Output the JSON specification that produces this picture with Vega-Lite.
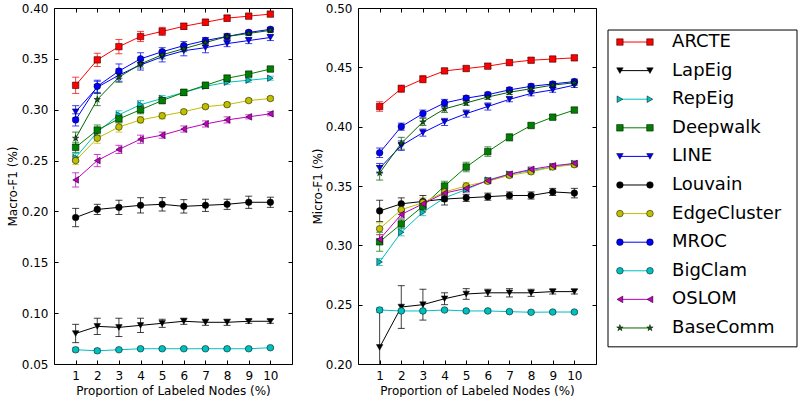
{
"$schema": "https://vega.github.io/schema/vega-lite/v6.json",
"padding": {"left": 5, "top": 1, "right": 0, "bottom": 0},
"config": {
  "font": "DejaVu Sans",
  "view": {"stroke": "black", "strokeWidth": 1},
  "axis": {"grid": false, "domainColor": "black", "tickColor": "black", "labelColor": "black", "titleColor": "black",
           "labelFont": "DejaVu Sans", "titleFont": "DejaVu Sans", "labelFontSize": 12, "titleFontSize": 12,
           "titleFontWeight": "normal", "tickSize": -4, "labelPadding": 10}
},
"datasets": {
"macro": [
{"m":"ARCTE","x":1,"v":0.324,"e":0.008},{"m":"ARCTE","x":2,"v":0.349,"e":0.0065},{"m":"ARCTE","x":3,"v":0.362,"e":0.007},{"m":"ARCTE","x":4,"v":0.372,"e":0.005},{"m":"ARCTE","x":5,"v":0.377,"e":0.004},{"m":"ARCTE","x":6,"v":0.382,"e":0.003},{"m":"ARCTE","x":7,"v":0.386,"e":0.003},{"m":"ARCTE","x":8,"v":0.390,"e":0.003},{"m":"ARCTE","x":9,"v":0.392,"e":0.002},{"m":"ARCTE","x":10,"v":0.394,"e":0.002},
{"m":"LapEig","x":1,"v":0.080,"e":0.009},{"m":"LapEig","x":2,"v":0.087,"e":0.008},{"m":"LapEig","x":3,"v":0.086,"e":0.009},{"m":"LapEig","x":4,"v":0.088,"e":0.007},{"m":"LapEig","x":5,"v":0.090,"e":0.004},{"m":"LapEig","x":6,"v":0.092,"e":0.003},{"m":"LapEig","x":7,"v":0.091,"e":0.003},{"m":"LapEig","x":8,"v":0.091,"e":0.003},{"m":"LapEig","x":9,"v":0.092,"e":0.002},{"m":"LapEig","x":10,"v":0.092,"e":0.002},
{"m":"RepEig","x":1,"v":0.253,"e":0.004},{"m":"RepEig","x":2,"v":0.278,"e":0.004},{"m":"RepEig","x":3,"v":0.295,"e":0.004},{"m":"RepEig","x":4,"v":0.305,"e":0.004},{"m":"RepEig","x":5,"v":0.311,"e":0.003},{"m":"RepEig","x":6,"v":0.317,"e":0.003},{"m":"RepEig","x":7,"v":0.323,"e":0.002},{"m":"RepEig","x":8,"v":0.327,"e":0.002},{"m":"RepEig","x":9,"v":0.329,"e":0.002},{"m":"RepEig","x":10,"v":0.331,"e":0.002},
{"m":"Deepwalk","x":1,"v":0.263,"e":0.005},{"m":"Deepwalk","x":2,"v":0.280,"e":0.005},{"m":"Deepwalk","x":3,"v":0.291,"e":0.004},{"m":"Deepwalk","x":4,"v":0.300,"e":0.004},{"m":"Deepwalk","x":5,"v":0.309,"e":0.003},{"m":"Deepwalk","x":6,"v":0.317,"e":0.003},{"m":"Deepwalk","x":7,"v":0.324,"e":0.003},{"m":"Deepwalk","x":8,"v":0.331,"e":0.003},{"m":"Deepwalk","x":9,"v":0.335,"e":0.002},{"m":"Deepwalk","x":10,"v":0.340,"e":0.002},
{"m":"LINE","x":1,"v":0.298,"e":0.006},{"m":"LINE","x":2,"v":0.322,"e":0.006},{"m":"LINE","x":3,"v":0.334,"e":0.006},{"m":"LINE","x":4,"v":0.344,"e":0.005},{"m":"LINE","x":5,"v":0.352,"e":0.005},{"m":"LINE","x":6,"v":0.358,"e":0.005},{"m":"LINE","x":7,"v":0.361,"e":0.005},{"m":"LINE","x":8,"v":0.365,"e":0.003},{"m":"LINE","x":9,"v":0.368,"e":0.003},{"m":"LINE","x":10,"v":0.371,"e":0.003},
{"m":"Louvain","x":1,"v":0.194,"e":0.009},{"m":"Louvain","x":2,"v":0.202,"e":0.005},{"m":"Louvain","x":3,"v":0.204,"e":0.007},{"m":"Louvain","x":4,"v":0.206,"e":0.0075},{"m":"Louvain","x":5,"v":0.207,"e":0.0066},{"m":"Louvain","x":6,"v":0.205,"e":0.0066},{"m":"Louvain","x":7,"v":0.206,"e":0.006},{"m":"Louvain","x":8,"v":0.207,"e":0.005},{"m":"Louvain","x":9,"v":0.209,"e":0.006},{"m":"Louvain","x":10,"v":0.209,"e":0.005},
{"m":"EdgeCluster","x":1,"v":0.250,"e":0.004},{"m":"EdgeCluster","x":2,"v":0.272,"e":0.005},{"m":"EdgeCluster","x":3,"v":0.283,"e":0.005},{"m":"EdgeCluster","x":4,"v":0.290,"e":0.003},{"m":"EdgeCluster","x":5,"v":0.294,"e":0.003},{"m":"EdgeCluster","x":6,"v":0.298,"e":0.002},{"m":"EdgeCluster","x":7,"v":0.303,"e":0.002},{"m":"EdgeCluster","x":8,"v":0.305,"e":0.002},{"m":"EdgeCluster","x":9,"v":0.309,"e":0.002},{"m":"EdgeCluster","x":10,"v":0.311,"e":0.002},
{"m":"MROC","x":1,"v":0.290,"e":0.006},{"m":"MROC","x":2,"v":0.323,"e":0.006},{"m":"MROC","x":3,"v":0.338,"e":0.007},{"m":"MROC","x":4,"v":0.350,"e":0.006},{"m":"MROC","x":5,"v":0.357,"e":0.004},{"m":"MROC","x":6,"v":0.363,"e":0.004},{"m":"MROC","x":7,"v":0.368,"e":0.003},{"m":"MROC","x":8,"v":0.372,"e":0.003},{"m":"MROC","x":9,"v":0.376,"e":0.002},{"m":"MROC","x":10,"v":0.379,"e":0.002},
{"m":"BigClam","x":1,"v":0.064,"e":0.002},{"m":"BigClam","x":2,"v":0.063,"e":0.002},{"m":"BigClam","x":3,"v":0.064,"e":0.001},{"m":"BigClam","x":4,"v":0.065,"e":0.001},{"m":"BigClam","x":5,"v":0.065,"e":0.001},{"m":"BigClam","x":6,"v":0.065,"e":0.001},{"m":"BigClam","x":7,"v":0.065,"e":0.001},{"m":"BigClam","x":8,"v":0.065,"e":0.001},{"m":"BigClam","x":9,"v":0.065,"e":0.001},{"m":"BigClam","x":10,"v":0.066,"e":0.001},
{"m":"OSLOM","x":1,"v":0.231,"e":0.007},{"m":"OSLOM","x":2,"v":0.250,"e":0.006},{"m":"OSLOM","x":3,"v":0.261,"e":0.004},{"m":"OSLOM","x":4,"v":0.271,"e":0.004},{"m":"OSLOM","x":5,"v":0.275,"e":0.003},{"m":"OSLOM","x":6,"v":0.281,"e":0.003},{"m":"OSLOM","x":7,"v":0.286,"e":0.003},{"m":"OSLOM","x":8,"v":0.290,"e":0.003},{"m":"OSLOM","x":9,"v":0.293,"e":0.002},{"m":"OSLOM","x":10,"v":0.296,"e":0.002},
{"m":"BaseComm","x":1,"v":0.272,"e":0.006},{"m":"BaseComm","x":2,"v":0.310,"e":0.006},{"m":"BaseComm","x":3,"v":0.332,"e":0.005},{"m":"BaseComm","x":4,"v":0.345,"e":0.004},{"m":"BaseComm","x":5,"v":0.354,"e":0.004},{"m":"BaseComm","x":6,"v":0.360,"e":0.003},{"m":"BaseComm","x":7,"v":0.366,"e":0.003},{"m":"BaseComm","x":8,"v":0.372,"e":0.002},{"m":"BaseComm","x":9,"v":0.375,"e":0.002},{"m":"BaseComm","x":10,"v":0.378,"e":0.002}
],
"micro": [
{"m":"ARCTE","x":1,"v":0.417,"e":0.004},{"m":"ARCTE","x":2,"v":0.432,"e":0.003},{"m":"ARCTE","x":3,"v":0.440,"e":0.003},{"m":"ARCTE","x":4,"v":0.447,"e":0.002},{"m":"ARCTE","x":5,"v":0.449,"e":0.002},{"m":"ARCTE","x":6,"v":0.451,"e":0.002},{"m":"ARCTE","x":7,"v":0.454,"e":0.002},{"m":"ARCTE","x":8,"v":0.456,"e":0.002},{"m":"ARCTE","x":9,"v":0.457,"e":0.002},{"m":"ARCTE","x":10,"v":0.458,"e":0.002},
{"m":"LapEig","x":1,"v":0.214,"e":0.032},{"m":"LapEig","x":2,"v":0.248,"e":0.018},{"m":"LapEig","x":3,"v":0.250,"e":0.013},{"m":"LapEig","x":4,"v":0.255,"e":0.005},{"m":"LapEig","x":5,"v":0.259,"e":0.0045},{"m":"LapEig","x":6,"v":0.260,"e":0.003},{"m":"LapEig","x":7,"v":0.260,"e":0.0035},{"m":"LapEig","x":8,"v":0.260,"e":0.003},{"m":"LapEig","x":9,"v":0.261,"e":0.002},{"m":"LapEig","x":10,"v":0.261,"e":0.002},
{"m":"RepEig","x":1,"v":0.286,"e":0.003},{"m":"RepEig","x":2,"v":0.311,"e":0.003},{"m":"RepEig","x":3,"v":0.328,"e":0.003},{"m":"RepEig","x":4,"v":0.340,"e":0.003},{"m":"RepEig","x":5,"v":0.347,"e":0.002},{"m":"RepEig","x":6,"v":0.355,"e":0.002},{"m":"RepEig","x":7,"v":0.360,"e":0.002},{"m":"RepEig","x":8,"v":0.363,"e":0.002},{"m":"RepEig","x":9,"v":0.366,"e":0.002},{"m":"RepEig","x":10,"v":0.369,"e":0.002},
{"m":"Deepwalk","x":1,"v":0.303,"e":0.008},{"m":"Deepwalk","x":2,"v":0.318,"e":0.004},{"m":"Deepwalk","x":3,"v":0.333,"e":0.004},{"m":"Deepwalk","x":4,"v":0.350,"e":0.004},{"m":"Deepwalk","x":5,"v":0.366,"e":0.004},{"m":"Deepwalk","x":6,"v":0.379,"e":0.004},{"m":"Deepwalk","x":7,"v":0.391,"e":0.003},{"m":"Deepwalk","x":8,"v":0.401,"e":0.002},{"m":"Deepwalk","x":9,"v":0.408,"e":0.002},{"m":"Deepwalk","x":10,"v":0.414,"e":0.002},
{"m":"LINE","x":1,"v":0.365,"e":0.004},{"m":"LINE","x":2,"v":0.384,"e":0.004},{"m":"LINE","x":3,"v":0.395,"e":0.003},{"m":"LINE","x":4,"v":0.404,"e":0.003},{"m":"LINE","x":5,"v":0.411,"e":0.003},{"m":"LINE","x":6,"v":0.417,"e":0.003},{"m":"LINE","x":7,"v":0.423,"e":0.002},{"m":"LINE","x":8,"v":0.428,"e":0.002},{"m":"LINE","x":9,"v":0.431,"e":0.002},{"m":"LINE","x":10,"v":0.435,"e":0.002},
{"m":"Louvain","x":1,"v":0.329,"e":0.009},{"m":"Louvain","x":2,"v":0.335,"e":0.005},{"m":"Louvain","x":3,"v":0.337,"e":0.005},{"m":"Louvain","x":4,"v":0.339,"e":0.005},{"m":"Louvain","x":5,"v":0.340,"e":0.003},{"m":"Louvain","x":6,"v":0.341,"e":0.003},{"m":"Louvain","x":7,"v":0.342,"e":0.003},{"m":"Louvain","x":8,"v":0.342,"e":0.003},{"m":"Louvain","x":9,"v":0.345,"e":0.003},{"m":"Louvain","x":10,"v":0.344,"e":0.004},
{"m":"EdgeCluster","x":1,"v":0.314,"e":0.005},{"m":"EdgeCluster","x":2,"v":0.330,"e":0.004},{"m":"EdgeCluster","x":3,"v":0.336,"e":0.004},{"m":"EdgeCluster","x":4,"v":0.345,"e":0.003},{"m":"EdgeCluster","x":5,"v":0.350,"e":0.003},{"m":"EdgeCluster","x":6,"v":0.354,"e":0.002},{"m":"EdgeCluster","x":7,"v":0.359,"e":0.002},{"m":"EdgeCluster","x":8,"v":0.362,"e":0.002},{"m":"EdgeCluster","x":9,"v":0.366,"e":0.002},{"m":"EdgeCluster","x":10,"v":0.368,"e":0.002},
{"m":"MROC","x":1,"v":0.378,"e":0.004},{"m":"MROC","x":2,"v":0.400,"e":0.003},{"m":"MROC","x":3,"v":0.411,"e":0.003},{"m":"MROC","x":4,"v":0.420,"e":0.003},{"m":"MROC","x":5,"v":0.424,"e":0.002},{"m":"MROC","x":6,"v":0.427,"e":0.002},{"m":"MROC","x":7,"v":0.431,"e":0.002},{"m":"MROC","x":8,"v":0.434,"e":0.002},{"m":"MROC","x":9,"v":0.436,"e":0.002},{"m":"MROC","x":10,"v":0.438,"e":0.002},
{"m":"BigClam","x":1,"v":0.2455,"e":0.002},{"m":"BigClam","x":2,"v":0.2447,"e":0.001},{"m":"BigClam","x":3,"v":0.2447,"e":0.001},{"m":"BigClam","x":4,"v":0.2455,"e":0.001},{"m":"BigClam","x":5,"v":0.2447,"e":0.001},{"m":"BigClam","x":6,"v":0.2447,"e":0.001},{"m":"BigClam","x":7,"v":0.2441,"e":0.001},{"m":"BigClam","x":8,"v":0.2436,"e":0.001},{"m":"BigClam","x":9,"v":0.2438,"e":0.001},{"m":"BigClam","x":10,"v":0.2438,"e":0.001},
{"m":"OSLOM","x":1,"v":0.305,"e":0.004},{"m":"OSLOM","x":2,"v":0.326,"e":0.003},{"m":"OSLOM","x":3,"v":0.335,"e":0.003},{"m":"OSLOM","x":4,"v":0.344,"e":0.003},{"m":"OSLOM","x":5,"v":0.348,"e":0.003},{"m":"OSLOM","x":6,"v":0.3545,"e":0.002},{"m":"OSLOM","x":7,"v":0.360,"e":0.002},{"m":"OSLOM","x":8,"v":0.364,"e":0.002},{"m":"OSLOM","x":9,"v":0.367,"e":0.002},{"m":"OSLOM","x":10,"v":0.369,"e":0.002},
{"m":"BaseComm","x":1,"v":0.361,"e":0.006},{"m":"BaseComm","x":2,"v":0.386,"e":0.005},{"m":"BaseComm","x":3,"v":0.404,"e":0.003},{"m":"BaseComm","x":4,"v":0.415,"e":0.003},{"m":"BaseComm","x":5,"v":0.420,"e":0.002},{"m":"BaseComm","x":6,"v":0.425,"e":0.002},{"m":"BaseComm","x":7,"v":0.429,"e":0.002},{"m":"BaseComm","x":8,"v":0.432,"e":0.002},{"m":"BaseComm","x":9,"v":0.435,"e":0.002},{"m":"BaseComm","x":10,"v":0.437,"e":0.002}
],
"legend": [
{"m":"ARCTE","i":0},{"m":"LapEig","i":1},{"m":"RepEig","i":2},{"m":"Deepwalk","i":3},{"m":"LINE","i":4},{"m":"Louvain","i":5},{"m":"EdgeCluster","i":6},{"m":"MROC","i":7},{"m":"BigClam","i":8},{"m":"OSLOM","i":9},{"m":"BaseComm","i":10}
]
},
"spacing": 10,
"hconcat": [
{
 "bounds": "flush",
 "spacing": 66,
 "hconcat": [
 {
  "width": 238, "height": 356,
  "data": {"name": "macro"},
  "layer": [
   {"mark": {"type": "errorbar", "ticks": {"size": 7}, "clip": true, "opacity": 0.75},
    "encoding": {
     "x": {"field": "x", "type": "quantitative", "scale": {"domain": [0, 11], "nice": false}, "axis": {"values": [1,2,3,4,5,6,7,8,9,10], "title": "Proportion of Labeled Nodes (%)", "titlePadding": 4, "domain": false}},
     "y": {"field": "v", "type": "quantitative", "scale": {"domain": [0.05, 0.40], "zero": false, "nice": false}, "axis": {"values": [0.05,0.1,0.15,0.2,0.25,0.3,0.35,0.4], "format": ".2f", "title": "Macro-F1 (%)", "titlePadding": 2, "domain": false}},
     "yError": {"field": "e"},
     "color": {"field": "m", "type": "nominal", "legend": null, "scale": {"domain": ["ARCTE","LapEig","RepEig","Deepwalk","LINE","Louvain","EdgeCluster","MROC","BigClam","OSLOM","BaseComm"], "range": ["#ff0000","#000000","#00bfbf","#008000","#0000ff","#000000","#bfbf00","#0000ff","#00bfbf","#bf00bf","#006400"]}}
    }},
   {"mark": {"type": "line", "strokeWidth": 1, "clip": true},
    "encoding": {
     "x": {"field": "x", "type": "quantitative", "axis": null},
     "y": {"field": "v", "type": "quantitative", "axis": null},
     "color": {"field": "m", "type": "nominal", "legend": null}
    }},
   {"mark": {"type": "point", "filled": true, "opacity": 1, "stroke": "black", "strokeWidth": 0.5, "clip": true},
    "encoding": {
     "x": {"field": "x", "type": "quantitative", "axis": {"orient": "top", "values": [1,2,3,4,5,6,7,8,9,10], "labels": false, "title": null, "domain": false}},
     "y": {"field": "v", "type": "quantitative", "axis": {"orient": "right", "values": [0.05,0.1,0.15,0.2,0.25,0.3,0.35,0.4], "labels": false, "title": null, "domain": false}},
     "fill": {"field": "m", "type": "nominal", "legend": null, "scale": {"domain": ["ARCTE","LapEig","RepEig","Deepwalk","LINE","Louvain","EdgeCluster","MROC","BigClam","OSLOM","BaseComm"], "range": ["#ff0000","#000000","#00bfbf","#008000","#0000ff","#000000","#bfbf00","#0000ff","#00bfbf","#bf00bf","#006400"]}},
     "shape": {"field": "m", "type": "nominal", "legend": null, "scale": {"domain": ["ARCTE","LapEig","RepEig","Deepwalk","LINE","Louvain","EdgeCluster","MROC","BigClam","OSLOM","BaseComm"], "range": ["square","triangle-down","triangle-right","square","triangle-down","circle","circle","circle","circle","triangle-left","M0,-1L0.2245,-0.309L0.951,-0.309L0.363,0.118L0.588,0.809L0,0.382L-0.588,0.809L-0.363,0.118L-0.951,-0.309L-0.2245,-0.309Z"]}},
     "size": {"field": "m", "type": "nominal", "legend": null, "scale": {"domain": ["ARCTE","LapEig","RepEig","Deepwalk","LINE","Louvain","EdgeCluster","MROC","BigClam","OSLOM","BaseComm"], "range": [42,45,45,42,45,42,42,42,42,45,30]}}
    }}
  ],
  "resolve": {"axis": {"x": "independent", "y": "independent"}}
 },
 {
  "width": 238, "height": 356,
  "data": {"name": "micro"},
  "layer": [
   {"mark": {"type": "errorbar", "ticks": {"size": 7}, "clip": true, "opacity": 0.75},
    "encoding": {
     "x": {"field": "x", "type": "quantitative", "scale": {"domain": [0, 11], "nice": false}, "axis": {"values": [1,2,3,4,5,6,7,8,9,10], "title": "Proportion of Labeled Nodes (%)", "titlePadding": 4, "domain": false}},
     "y": {"field": "v", "type": "quantitative", "scale": {"domain": [0.20, 0.50], "zero": false, "nice": false}, "axis": {"values": [0.2,0.25,0.3,0.35,0.4,0.45,0.5], "format": ".2f", "title": "Micro-F1 (%)", "titlePadding": 1, "domain": false}},
     "yError": {"field": "e"},
     "color": {"field": "m", "type": "nominal", "legend": null, "scale": {"domain": ["ARCTE","LapEig","RepEig","Deepwalk","LINE","Louvain","EdgeCluster","MROC","BigClam","OSLOM","BaseComm"], "range": ["#ff0000","#000000","#00bfbf","#008000","#0000ff","#000000","#bfbf00","#0000ff","#00bfbf","#bf00bf","#006400"]}}
    }},
   {"mark": {"type": "line", "strokeWidth": 1, "clip": true},
    "encoding": {
     "x": {"field": "x", "type": "quantitative", "axis": null},
     "y": {"field": "v", "type": "quantitative", "axis": null},
     "color": {"field": "m", "type": "nominal", "legend": null}
    }},
   {"mark": {"type": "point", "filled": true, "opacity": 1, "stroke": "black", "strokeWidth": 0.5, "clip": true},
    "encoding": {
     "x": {"field": "x", "type": "quantitative", "axis": {"orient": "top", "values": [1,2,3,4,5,6,7,8,9,10], "labels": false, "title": null, "domain": false}},
     "y": {"field": "v", "type": "quantitative", "axis": {"orient": "right", "values": [0.2,0.25,0.3,0.35,0.4,0.45,0.5], "labels": false, "title": null, "domain": false}},
     "fill": {"field": "m", "type": "nominal", "legend": null, "scale": {"domain": ["ARCTE","LapEig","RepEig","Deepwalk","LINE","Louvain","EdgeCluster","MROC","BigClam","OSLOM","BaseComm"], "range": ["#ff0000","#000000","#00bfbf","#008000","#0000ff","#000000","#bfbf00","#0000ff","#00bfbf","#bf00bf","#006400"]}},
     "shape": {"field": "m", "type": "nominal", "legend": null, "scale": {"domain": ["ARCTE","LapEig","RepEig","Deepwalk","LINE","Louvain","EdgeCluster","MROC","BigClam","OSLOM","BaseComm"], "range": ["square","triangle-down","triangle-right","square","triangle-down","circle","circle","circle","circle","triangle-left","M0,-1L0.2245,-0.309L0.951,-0.309L0.363,0.118L0.588,0.809L0,0.382L-0.588,0.809L-0.363,0.118L-0.951,-0.309L-0.2245,-0.309Z"]}},
     "size": {"field": "m", "type": "nominal", "legend": null, "scale": {"domain": ["ARCTE","LapEig","RepEig","Deepwalk","LINE","Louvain","EdgeCluster","MROC","BigClam","OSLOM","BaseComm"], "range": [42,45,45,42,45,42,42,42,42,45,30]}}
    }}
  ],
  "resolve": {"axis": {"x": "independent", "y": "independent"}}
 }
 ]
},
{
 "width": 189, "height": 356,
 "view": {"stroke": null},
 "layer": [
  {"data": {"values": [{}]},
   "mark": {"type": "rect", "fill": "white", "stroke": "black", "strokeWidth": 1},
   "encoding": {
    "x": {"datum": 0, "type": "quantitative", "scale": {"domain": [0, 1], "nice": false, "zero": false}, "axis": null},
    "x2": {"datum": 1},
    "y": {"datum": -0.42, "type": "quantitative", "scale": {"domain": [-1.19, 11.26], "reverse": true, "nice": false, "zero": false}, "axis": null},
    "y2": {"datum": 10.66}
   }},
  {"data": {"name": "legend"},
   "mark": {"type": "rule", "strokeWidth": 1},
   "encoding": {
    "x": {"datum": 0.063, "type": "quantitative", "axis": null},
    "x2": {"datum": 0.222},
    "y": {"field": "i", "type": "quantitative", "axis": null},
    "color": {"field": "m", "type": "nominal", "legend": null, "scale": {"domain": ["ARCTE","LapEig","RepEig","Deepwalk","LINE","Louvain","EdgeCluster","MROC","BigClam","OSLOM","BaseComm"], "range": ["#ff0000","#000000","#00bfbf","#008000","#0000ff","#000000","#bfbf00","#0000ff","#00bfbf","#bf00bf","#006400"]}}
   }},
  {"data": {"name": "legend"},
   "mark": {"type": "point", "filled": true, "opacity": 1, "stroke": "black", "strokeWidth": 0.5},
   "encoding": {
    "x": {"datum": 0.063, "type": "quantitative", "axis": null},
    "y": {"field": "i", "type": "quantitative", "axis": null},
    "fill": {"field": "m", "type": "nominal", "legend": null, "scale": {"domain": ["ARCTE","LapEig","RepEig","Deepwalk","LINE","Louvain","EdgeCluster","MROC","BigClam","OSLOM","BaseComm"], "range": ["#ff0000","#000000","#00bfbf","#008000","#0000ff","#000000","#bfbf00","#0000ff","#00bfbf","#bf00bf","#006400"]}},
    "shape": {"field": "m", "type": "nominal", "legend": null, "scale": {"domain": ["ARCTE","LapEig","RepEig","Deepwalk","LINE","Louvain","EdgeCluster","MROC","BigClam","OSLOM","BaseComm"], "range": ["square","triangle-down","triangle-right","square","triangle-down","circle","circle","circle","circle","triangle-left","M0,-1L0.2245,-0.309L0.951,-0.309L0.363,0.118L0.588,0.809L0,0.382L-0.588,0.809L-0.363,0.118L-0.951,-0.309L-0.2245,-0.309Z"]}},
    "size": {"field": "m", "type": "nominal", "legend": null, "scale": {"domain": ["ARCTE","LapEig","RepEig","Deepwalk","LINE","Louvain","EdgeCluster","MROC","BigClam","OSLOM","BaseComm"], "range": [42,45,45,42,45,42,42,42,42,45,30]}}
   }},
  {"data": {"name": "legend"},
   "mark": {"type": "point", "filled": true, "opacity": 1, "stroke": "black", "strokeWidth": 0.5},
   "encoding": {
    "x": {"datum": 0.222, "type": "quantitative", "axis": null},
    "y": {"field": "i", "type": "quantitative", "axis": null},
    "fill": {"field": "m", "type": "nominal", "legend": null},
    "shape": {"field": "m", "type": "nominal", "legend": null},
    "size": {"field": "m", "type": "nominal", "legend": null}
   }},
  {"data": {"name": "legend"},
   "mark": {"type": "text", "align": "left", "baseline": "middle", "fontSize": 18, "font": "DejaVu Sans", "color": "black"},
   "encoding": {
    "x": {"datum": 0.339, "type": "quantitative", "axis": null},
    "y": {"field": "i", "type": "quantitative", "axis": null},
    "text": {"field": "m", "type": "nominal"}
   }}
 ]
}
]
}
